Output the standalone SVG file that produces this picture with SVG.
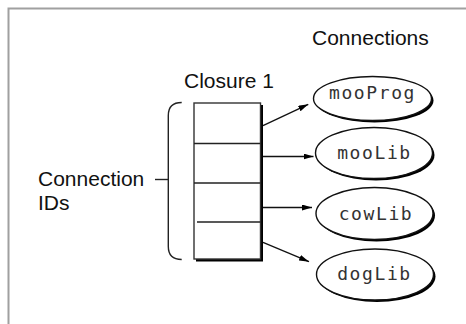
<svg xmlns="http://www.w3.org/2000/svg" width="466" height="324" viewBox="0 0 466 324">
<defs>
<style>
.lbl{font-family:"Liberation Sans",Arial,sans-serif;font-size:21px;fill:#111}
.mono{font-family:"DejaVu Sans Mono","Liberation Mono",monospace;font-size:18px;fill:#333;letter-spacing:1.6px;text-anchor:middle}
.shadow{fill:#000}
.ell{fill:#fff;stroke:#111;stroke-width:1.4}
.ln{fill:none;stroke:#222;stroke-width:1.4}
.conn{fill:none;stroke:#111;stroke-width:1.3}
</style>
<marker id="arr" viewBox="0 0 10 6" refX="10" refY="3" markerWidth="10" markerHeight="6" markerUnits="userSpaceOnUse" orient="auto">
<path d="M0,0 L10,3 L0,6 Z" fill="#000"/>
</marker>
</defs>
<rect width="466" height="324" fill="#fff"/>
<path d="M8.5,324 V8.5 H466" fill="none" stroke="#a0a0a0" stroke-width="2"/>

<g id="title-connections"><text class="lbl" x="312" y="45">Connections</text></g>

<g id="closure">
<text class="lbl" x="184" y="88">Closure 1</text>
<rect class="shadow" x="196" y="105" width="67" height="156.5"/>
<rect x="194" y="103" width="66.5" height="156" fill="#fff" stroke="#333" stroke-width="1.4"/>
<line class="ln" x1="194" y1="143.5" x2="260.5" y2="143.5"/>
<line class="ln" x1="194" y1="183" x2="260.5" y2="183"/>
<line class="ln" x1="197" y1="222" x2="260.5" y2="222"/>
</g>

<g id="connection-ids">
<text class="lbl" x="38" y="186">Connection</text>
<text class="lbl" x="38" y="210">IDs</text>
<path class="ln" d="M155,179.5 H168.3"/>
<path class="ln" d="M181.7,102.5 Q168.3,102.5 168.3,115.5 V246.5 Q168.3,259.5 181.7,259.5"/>
</g>

<g id="mooProg">
<ellipse class="shadow" cx="374.5" cy="100.5" rx="59" ry="22"/>
<ellipse class="ell" cx="372.5" cy="98.5" rx="59" ry="22"/>
<text class="mono" x="372.5" y="99">mooProg</text>
</g>
<g id="mooLib">
<ellipse class="shadow" cx="376" cy="155" rx="58.5" ry="25.5"/>
<ellipse class="ell" cx="374" cy="153" rx="58.5" ry="25.5"/>
<text class="mono" x="374.5" y="159.3">mooLib</text>
</g>
<g id="cowLib">
<ellipse class="shadow" cx="376.5" cy="215.5" rx="58.5" ry="26"/>
<ellipse class="ell" cx="374.5" cy="213.5" rx="58.5" ry="26"/>
<text class="mono" x="376" y="220">cowLib</text>
</g>
<g id="dogLib">
<ellipse class="shadow" cx="377" cy="276.5" rx="58.5" ry="25.5"/>
<ellipse class="ell" cx="375" cy="274.5" rx="58.5" ry="25.5"/>
<text class="mono" x="374.5" y="280">dogLib</text>
</g>

<g id="connectors">
<line class="conn" x1="263" y1="125.7" x2="308.3" y2="104.3" marker-end="url(#arr)"/>
<line class="conn" x1="263" y1="156.5" x2="313.5" y2="156.5" marker-end="url(#arr)"/>
<line class="conn" x1="263" y1="207.5" x2="312" y2="207.5" marker-end="url(#arr)"/>
<line class="conn" x1="263" y1="242.3" x2="309" y2="261.7" marker-end="url(#arr)"/>
</g>
</svg>
